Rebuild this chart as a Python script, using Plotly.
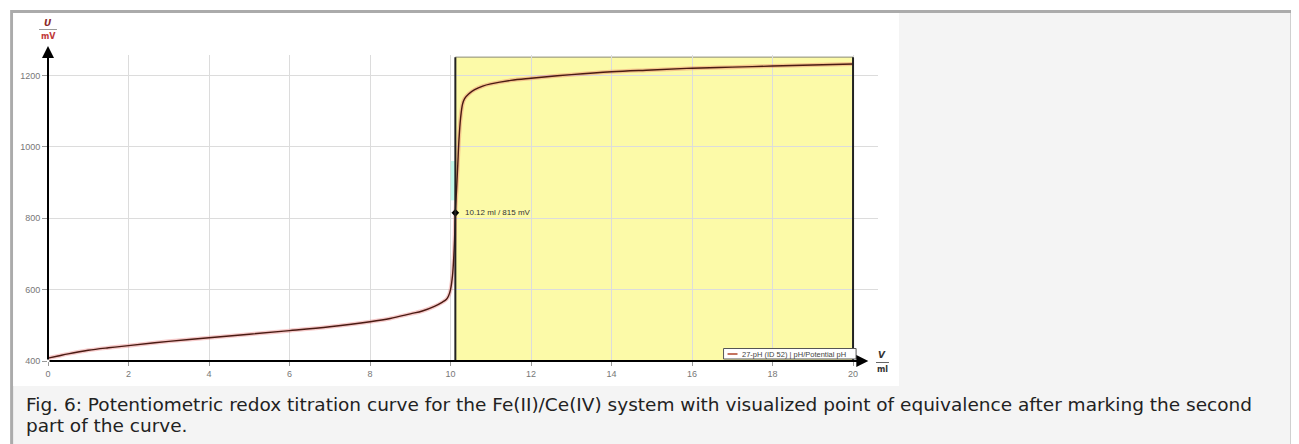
import plotly.graph_objects as go

# ---- data ----
volume_ml = [0, 0.25, 0.5, 1, 1.5, 2, 3, 4, 5, 6, 7, 8, 8.5, 9, 9.3, 9.6, 9.8, 9.9,
             9.95, 10.0, 10.05, 10.08, 10.1, 10.12, 10.15, 10.18, 10.21, 10.25, 10.3,
             10.35, 10.45, 10.6, 10.8, 11, 11.5, 12, 13, 14, 15, 16, 17, 18, 19, 20]
potential_mv = [408, 414, 420, 430, 437, 443, 455, 465, 475, 485, 496, 510, 519, 532,
                540, 553, 565, 573, 582, 600, 640, 690, 740, 815, 880, 950, 1020, 1080,
                1120, 1135, 1148, 1160, 1170, 1176, 1186, 1192, 1202, 1210, 1215, 1220,
                1223, 1226, 1229, 1232]
eq_volume = 10.12
eq_potential = 815
marked_from, marked_to = 10.12, 20
highlight_x = [10.07, 10.07]
highlight_y = [850, 960]
x_ticks = [0, 2, 4, 6, 8, 10, 12, 14, 16, 18, 20]
y_ticks = [400, 600, 800, 1000, 1200]
series_name = "27-pH (ID 52) | pH/Potential pH"
caption1 = "Fig. 6: Potentiometric redox titration curve for the Fe(II)/Ce(IV) system with visualized point of equivalence after marking the second"
caption2 = "part of the curve."

# ---- layout geometry (page pixels; the page body has an 8px margin) ----
OFF = 8
PAGE_W, PAGE_H = 1299, 444
W, H = PAGE_W - OFF, PAGE_H - OFF
L, R, T, B = 45, 878, 55, 361
X_RANGE = [0, 20.62]
Y_RANGE = [400, 1257]


def px(x):
    return (x - L) / (R - L)


def py(y):
    return (B - y) / (B - T)


fig = go.Figure()

# highlighted (cyan) portion near equivalence
fig.add_trace(go.Scatter(x=highlight_x, y=highlight_y, mode="lines",
                         line=dict(color="#c2f7ea", width=5), showlegend=False,
                         hoverinfo="skip"))
# halo of the curve
fig.add_trace(go.Scatter(x=volume_ml, y=potential_mv, mode="lines",
                         line=dict(color="rgba(225,80,80,0.3)", width=4, shape="spline"),
                         showlegend=False, hoverinfo="skip"))
# main curve
fig.add_trace(go.Scatter(x=volume_ml, y=potential_mv, mode="lines",
                         line=dict(color="#4a1a12", width=1.4, shape="spline"),
                         name=series_name, showlegend=False))
# equivalence point
fig.add_trace(go.Scatter(x=[eq_volume], y=[eq_potential], mode="markers",
                         marker=dict(color="black", size=6, symbol="diamond"),
                         showlegend=False))

shapes = []
# page frame
shapes.append(dict(type="rect", xref="paper", yref="paper",
                   x0=px(8.5), x1=px(1293.5), y0=py(470), y1=py(11.5),
                   line=dict(color="#ababab", width=3), fillcolor="#f4f4f4", layer="below"))
# white chart area
shapes.append(dict(type="rect", xref="paper", yref="paper",
                   x0=px(10), x1=px(899), y0=py(386), y1=py(13),
                   line=dict(width=0), fillcolor="white", layer="below"))
# marked (yellow) region
shapes.append(dict(type="rect", xref="x", yref="y", x0=marked_from, x1=marked_to,
                   y0=Y_RANGE[0], y1=1251, line=dict(width=0),
                   fillcolor="#fcfaa8", layer="below"))
shapes.append(dict(type="line", xref="x", yref="y", x0=marked_from, x1=marked_to,
                   y0=1251, y1=1251, line=dict(color="#8a8a70", width=1), layer="below"))
for xv in (marked_from, marked_to):
    shapes.append(dict(type="line", xref="x", yref="y", x0=xv, x1=xv,
                       y0=Y_RANGE[0], y1=1251, line=dict(color="#222222", width=2),
                       layer="above"))
# legend box
shapes.append(dict(type="rect", xref="paper", yref="paper",
                   x0=px(723), x1=px(856), y0=py(359), y1=py(348.5),
                   line=dict(color="#555555", width=1), fillcolor="white", layer="above"))
shapes.append(dict(type="line", xref="paper", yref="paper",
                   x0=px(727), x1=px(737), y0=py(354), y1=py(354),
                   line=dict(color="#b0442a", width=1.5), layer="above"))
# x-label fraction line
shapes.append(dict(type="line", xref="paper", yref="paper",
                   x0=px(876), x1=px(889), y0=py(362.5), y1=py(362.5),
                   line=dict(color="#666666", width=1), layer="above"))
# y-label fraction line
shapes.append(dict(type="line", xref="paper", yref="paper",
                   x0=px(36), x1=px(54), y0=py(29.5), y1=py(29.5),
                   line=dict(color="#999999", width=1), layer="above"))

annotations = []
# axis arrows
annotations.append(dict(x=0, y=1282, xref="x", yref="y", ax=0, ay=Y_RANGE[0],
                        axref="x", ayref="y", showarrow=True, arrowhead=2,
                        arrowsize=1.2, arrowwidth=2, arrowcolor="black", text=""))
annotations.append(dict(x=20.38, y=Y_RANGE[0], xref="x", yref="y", ax=0, ay=Y_RANGE[0],
                        axref="x", ayref="y", showarrow=True, arrowhead=2,
                        arrowsize=1.2, arrowwidth=2, arrowcolor="black", text=""))


def label(x, y, text, size, color, family="DejaVu Sans", xanchor="center", yref="paper"):
    return dict(x=x, y=y, xref="paper", yref=yref, showarrow=False, text=text,
                xanchor=xanchor, yanchor="middle",
                font=dict(family=family, size=size, color=color))


# axis titles
annotations.append(label(px(45), py(23), "<b><i>U</i></b>", 9, "#8b2a2a"))
annotations.append(label(px(45), py(37), "<b>mV</b>", 8, "#c03838"))
annotations.append(label(px(882.5), py(355), "<b><i>V</i></b>", 9, "#333333"))
annotations.append(label(px(882.5), py(370), "<b>ml</b>", 8, "#333333"))
# equivalence label
annotations.append(label(px(461), eq_potential, f"{eq_volume} ml / {eq_potential} mV", 8,
                         "#333333", family="Liberation Sans", xanchor="left", yref="y"))
# legend text
annotations.append(label(px(739), py(354), series_name, 7.5, "#444444",
                         family="Liberation Sans", xanchor="left"))
# caption
annotations.append(label(px(21), py(404), caption1, 18.5, "#222222", xanchor="left"))
annotations.append(label(px(21), py(425), caption2, 18.5, "#222222", xanchor="left"))

fig.update_layout(
    width=W, height=H,
    margin=dict(l=L - OFF, r=PAGE_W - R, t=T - OFF, b=PAGE_H - B, pad=0),
    paper_bgcolor="white", plot_bgcolor="white",
    showlegend=False,
    shapes=shapes, annotations=annotations,
    xaxis=dict(range=X_RANGE, tickvals=x_ticks, ticktext=[str(v) for v in x_ticks],
               showgrid=True, gridcolor="#dcdcdc", gridwidth=1, zeroline=False,
               showline=False, ticks="outside", ticklen=4, tickcolor="#999999",
               tickfont=dict(family="Liberation Sans", size=9, color="#777777")),
    yaxis=dict(range=Y_RANGE, tickvals=y_ticks, ticktext=[str(v) for v in y_ticks],
               showgrid=True, gridcolor="#dcdcdc", gridwidth=1, zeroline=False,
               showline=False, ticks="outside", ticklen=5, tickcolor="#999999",
               tickfont=dict(family="Liberation Sans", size=9, color="#777777")),
)

fig.write_html("out.html")
